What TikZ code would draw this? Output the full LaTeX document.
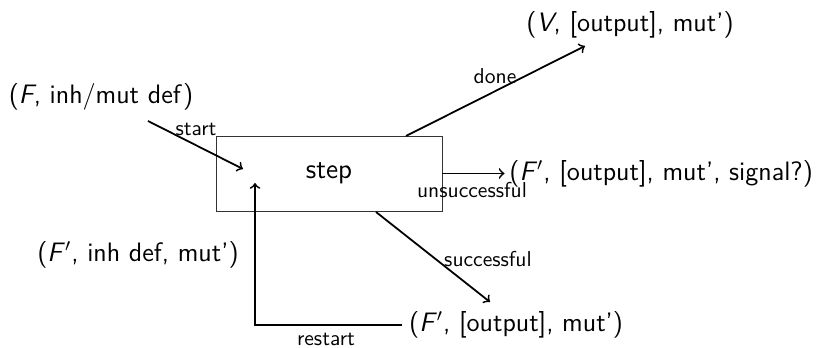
\documentclass[tikz,border=0pt]{standalone}
\usepackage{fontspec}
\renewcommand{\familydefault}{\sfdefault}
\begin{document}
\begin{tikzpicture}[x=0.45pt,y=-0.45pt,
  txt/.style={inner sep=0pt,font=\sffamily\fontsize{12}{14}\selectfont},
  lbl/.style={inner sep=0pt,font=\sffamily\fontsize{9.7}{11}\selectfont},
  arr/.style={->,thick},
  stepbox/.style={draw=black!80,thin,minimum width=101.7pt,minimum height=33.75pt,font=\sffamily\fontsize{12.5}{14}\selectfont}]
\useasboundingbox (0,0) rectangle (826,348);
\node[stepbox] (step) at (329,173.5) {step};
\node[txt] (inF) at (101,97) {(\textit{F}, inh/mut def)};
\node[txt] (V) at (630,25) {(\textit{V}, [output], mut')};
\node[txt,anchor=west] (Fsig) at (509,173.5) {(\textit{F}$'$, [output], mut', signal?)};
\node[txt,anchor=west,inner sep=3pt] (Fout) at (402,325) {(\textit{F}$'$, [output], mut')};
\node[txt] (Finh) at (138,255) {(\textit{F}$'$, inh def, mut')};
\coordinate (s0) at (148,121);
\coordinate (s1) at (243,169);
\coordinate (d0) at (406,136);
\coordinate (d1) at (585,46);
\coordinate (u0) at (376,212);
\coordinate (u1) at (490,302);
\coordinate (r1) at (255,183);
\draw[arr] (s0) -- (s1) node[lbl] at (196,129) {start};
\draw[arr] (d0) -- (d1) node[lbl] at (495,76) {done};
\draw[arr] (step.east) -- ([xshift=-2pt]Fsig.west) node[lbl] at (472,190) {unsuccessful};
\draw[arr] (u0) -- (u1) node[lbl] at (488,259) {successful};
\draw[arr] (Fout.west) -| (r1) node[lbl] at (326,339) {restart};
\end{tikzpicture}
\end{document}
